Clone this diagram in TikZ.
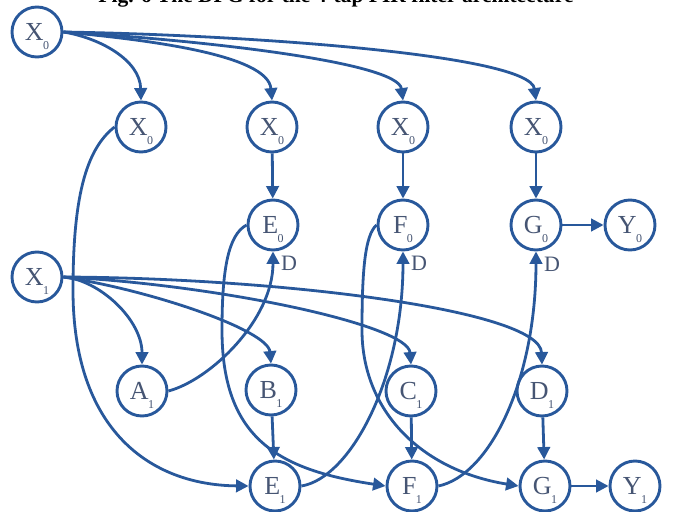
\documentclass[tikz,border=0pt]{standalone}
\usepackage{fontspec}
\setmainfont{Liberation Serif}
\usetikzlibrary{arrows.meta}
\definecolor{edgeblue}{RGB}{40,88,155}
\definecolor{labelgray}{RGB}{70,85,115}
% vertex label: letter with a lowered subscript index
\newcommand{\vlab}[2]{#1\kern-0.5pt\smash{\raisebox{-9pt}{\fontsize{12}{12}\selectfont #2}}}
\begin{document}
\begin{tikzpicture}[x=1pt,y=-1pt,
  vnode/.style={circle,draw=edgeblue,line width=2.9pt,minimum size=50pt,inner sep=0pt,
                text=labelgray,font=\fontsize{26}{26}\selectfont},
  edge/.style={draw=edgeblue,line width=2.8pt,-{Triangle[length=12.5pt,width=12.5pt]}},
  dlabel/.style={text=labelgray,font=\fontsize{22}{22}\selectfont,inner sep=0pt}]
\useasboundingbox (0,0) rectangle (673,512);

% caption, mostly above the page edge
\node[font=\bfseries\fontsize{21.5}{21.5}\selectfont,anchor=base,inner sep=0pt] (title)
  at (336,2.5) {Fig. 6 The DFG for the 4-tap FIR filter architecture};

% vertices
\node[vnode] (x0) at (37,32)   {\vlab{X}{0}};
\node[vnode] (xa) at (141,127) {\vlab{X}{0}};
\node[vnode] (xb) at (272,127) {\vlab{X}{0}};
\node[vnode] (xc) at (403,127) {\vlab{X}{0}};
\node[vnode] (xd) at (536,127) {\vlab{X}{0}};
\node[vnode] (e0) at (273,225) {\vlab{E}{0}};
\node[vnode] (f0) at (403,225) {\vlab{F}{0}};
\node[vnode] (g0) at (536,225) {\vlab{G}{0}};
\node[vnode] (y0) at (630,225) {\vlab{Y}{0}};
\node[vnode] (x1) at (37,277)  {\vlab{X}{1}};
\node[vnode] (a1) at (142,391) {\vlab{A}{1}};
\node[vnode] (b1) at (271,390) {\vlab{B}{1}};
\node[vnode] (c1) at (411,391) {\vlab{C}{1}};
\node[vnode] (d1) at (542,391) {\vlab{D}{1}};
\node[vnode] (e1) at (275,486) {\vlab{E}{1}};
\node[vnode] (f1) at (412,486) {\vlab{F}{1}};
\node[vnode] (g1) at (545,486) {\vlab{G}{1}};
\node[vnode] (y1) at (635,486) {\vlab{Y}{1}};

% fan-out of X0
\draw[edge] (x0.east) .. controls (100,38) and (140,60) .. (xa.north);
\draw[edge] (x0.east) .. controls (150,40) and (268,55) .. (xb.north);
\draw[edge] (x0.east) .. controls (200,40) and (398,62) .. (xc.north);
\draw[edge] (x0.east) .. controls (250,35) and (530,55) .. (xd.north);

% fan-out of X1
\draw[edge] (x1.east) .. controls (100,280) and (142,320) .. (a1.north);
\draw[edge] (x1.east) .. controls (150,290) and (268,330) .. (b1.north);
\draw[edge] (x1.east) .. controls (220,285) and (408,325) .. (c1.north);
\draw[edge] (x1.east) .. controls (280,278) and (540,310) .. (d1.north);

% straight connections
\draw[edge] (xb) -- (e0);
\draw[edge] (xc) -- (f0);
\draw[edge] (xd) -- (g0);
\draw[edge] (g0) -- (y0);
\draw[edge] (b1) -- (e1);
\draw[edge] (c1) -- (f1);
\draw[edge] (d1) -- (g1);
\draw[edge] (g1) -- (y1);

% long downward links
\draw[edge] (xa.west) .. controls (85,150) and (73,200) .. (73,290)
            .. controls (73,430) and (150,485) .. (e1.west);
\draw[edge] (e0.west) .. controls (228,235) and (222,270) .. (222,330)
            .. controls (222,440) and (280,470) .. (f1.west);
\draw[edge] (f0.west) .. controls (365,235) and (362,270) .. (362,330)
            .. controls (362,410) and (420,470) .. (g1.west);

% delayed feedback links
\draw[edge] (a1.east) .. controls (210,380) and (273,320) .. (e0.south);
\draw[edge] (e1.east) .. controls (350,478) and (403,380) .. (f0.south);
\draw[edge] (f1.east) .. controls (490,475) and (536,380) .. (g0.south);

\node[dlabel] (de0) at (289,263) {D};
\node[dlabel] (df0) at (419,263) {D};
\node[dlabel] (dg0) at (552,264) {D};
\end{tikzpicture}
\end{document}
